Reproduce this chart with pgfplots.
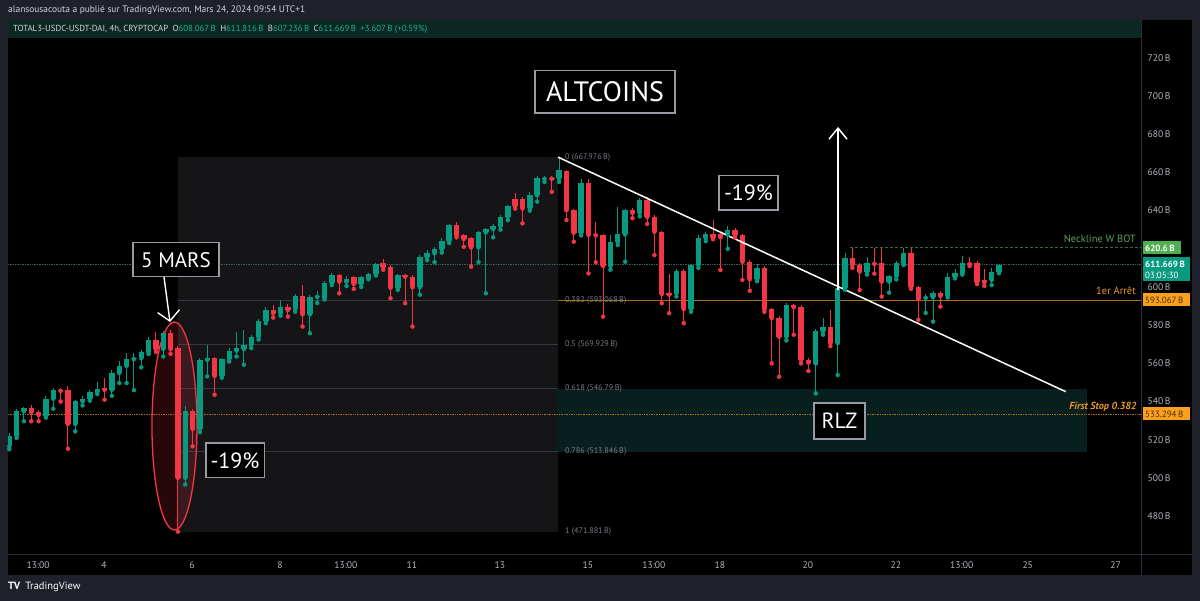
\documentclass[border=0pt]{standalone}
\usepackage{pgfplots}
\pgfplotsset{compat=1.18}
\usepackage{pgfplotstable}
\usepackage{fontspec}
\setmainfont{PT Sans}
\usetikzlibrary{arrows.meta}
\definecolor{frame}{RGB}{30,33,42}
\definecolor{tvgreen}{RGB}{8,153,129}
\definecolor{tvred}{RGB}{242,54,69}
\definecolor{axtxt}{RGB}{178,181,190}
\definecolor{fibbox}{RGB}{21,21,24}
\definecolor{fibline}{RGB}{55,56,62}
\definecolor{fibtxt}{RGB}{120,123,134}
\definecolor{rlz}{RGB}{8,32,29}
\definecolor{tag}{RGB}{250,160,30}
\definecolor{tagtxt}{RGB}{70,45,10}
\definecolor{orangetxt}{RGB}{232,150,38}
\definecolor{orangeline}{RGB}{170,110,30}
\definecolor{neck}{RGB}{76,175,80}
\definecolor{necktxt}{RGB}{85,160,90}
\definecolor{neckline}{RGB}{50,110,55}
\definecolor{boxline}{RGB}{150,154,163}
\definecolor{band}{RGB}{11,40,35}
\definecolor{sep}{RGB}{42,46,57}
\definecolor{hdr}{RGB}{209,212,220}
\definecolor{ohlc}{RGB}{34,171,148}
\definecolor{pline}{RGB}{60,95,88}

\pgfplotstableread{
i o h l c
1 516.6 523.5 515.0 522.2
2 522.2 536.0 521.0 534.9
3 534.9 537.2 529.7 536.5
4 536.5 538.4 529.7 534.4
5 534.4 535.6 529.7 533.0
6 532.6 542.7 531.6 541.5
7 541.5 546.9 536.3 546.2
8 546.2 546.9 540.0 545.6
9 546.2 548.3 515.3 528.3
10 528.3 541.0 524.4 540.1
11 540.1 543.0 538.0 541.5
12 541.5 546.0 540.5 545.0
13 545.0 550.0 544.0 546.6
14 547.1 552.3 541.0 546.2
15 546.2 556.3 543.0 554.9
16 554.9 561.0 549.7 558.7
17 558.7 565.3 549.7 562.2
18 562.2 565.3 546.0 562.7
19 562.7 567.1 558.0 565.7
20 565.7 574.0 564.9 572.3
21 572.3 576.5 566.0 567.5
22 567.5 577.0 563.6 575.8
23 575.8 577.5 565.0 567.5
24 568.0 569.0 471.9 500.1
25 500.1 537.9 496.6 534.9
26 534.9 536.0 516.6 525.7
27 525.7 562.8 524.0 561.9
28 561.9 569.7 553.2 562.3
29 562.7 563.5 543.6 553.5
30 553.5 563.0 552.5 562.2
31 562.2 568.0 561.0 566.7
32 566.7 576.6 563.6 568.0
33 567.5 577.5 559.3 569.7
34 569.7 575.0 568.0 574.0
35 574.0 583.5 572.5 582.4
36 582.4 589.5 581.0 588.0
37 588.0 590.8 584.0 586.3
38 586.3 593.0 585.0 589.7
39 589.7 591.1 584.5 588.0
40 588.4 596.5 587.0 595.5
41 595.5 601.0 579.3 585.7
42 585.7 596.0 575.8 595.0
43 594.8 597.7 591.6 595.2
44 594.4 603.0 593.5 602.2
45 602.2 607.5 601.0 606.3
46 606.3 607.0 596.7 602.8
47 602.8 605.5 600.5 604.4
48 605.1 606.0 599.0 601.6
49 601.6 606.0 600.0 605.1
50 604.9 607.5 604.0 606.8
51 606.8 612.5 606.0 611.9
52 612.4 614.5 609.0 610.3
53 610.6 611.5 594.1 599.6
54 599.6 607.0 598.5 606.3
55 606.3 607.0 591.5 605.4
56 605.4 606.5 579.3 599.8
57 599.8 616.5 596.0 615.5
58 615.5 619.5 614.0 617.6
59 617.6 621.0 613.0 619.7
60 619.7 625.5 618.0 624.2
61 624.2 633.0 623.0 632.4
62 632.4 634.1 626.0 627.2
63 627.2 628.0 621.0 625.1
64 625.4 626.0 610.6 620.7
65 620.7 629.5 613.0 628.9
66 628.6 631.0 596.7 630.3
67 630.3 633.0 626.0 631.9
68 631.9 637.5 630.0 636.7
69 636.7 643.0 635.0 642.3
70 646.0 649.0 641.0 642.3
71 646.3 647.0 633.3 641.1
72 641.1 649.5 640.0 648.4
73 648.0 658.0 644.7 657.3
74 656.6 658.0 655.0 657.0
75 657.0 658.0 649.8 656.6
76 656.8 667.976 655.0 661.1
77 660.8 661.5 635.0 640.2
78 640.2 641.0 623.7 628.4
79 628.4 656.3 627.0 654.5
80 654.5 656.3 607.1 627.2
81 627.5 634.0 613.0 627.0
82 627.2 628.0 584.5 611.0
83 611.0 627.0 609.0 623.7
84 623.7 642.0 622.0 627.5
85 627.5 641.0 613.2 640.2
86 640.2 641.5 636.0 638.8
87 638.8 646.5 637.0 645.8
88 645.8 647.0 633.0 636.7
89 636.7 637.5 616.7 628.9
90 628.9 629.5 591.5 596.3
91 596.5 606.8 586.3 596.0
92 596.7 609.5 595.0 608.5
93 608.5 609.5 581.0 588.4
94 588.4 612.0 587.0 611.5
95 611.5 627.0 610.0 625.4
96 625.4 629.0 624.0 628.0
97 628.0 635.0 625.0 625.9
98 628.0 629.0 608.9 626.0
99 627.2 632.0 620.0 629.8
100 629.8 631.0 626.0 627.2
101 627.2 628.0 603.7 613.2
102 613.2 614.0 598.0 604.0
103 604.0 612.0 603.0 609.8
104 609.8 611.0 587.0 588.4
105 588.4 589.0 560.0 583.7
106 583.7 585.0 553.0 574.0
107 574.0 591.5 572.0 590.6
108 590.6 591.0 575.0 589.4
109 589.4 590.5 560.0 561.8
110 561.8 563.0 556.0 560.4
111 559.9 578.0 544.3 576.7
112 576.7 584.0 575.0 579.3
113 579.3 588.0 569.0 570.6
114 570.6 600.0 553.9 599.3
115 599.3 617.6 598.5 615.0
116 615.0 620.2 610.0 611.5
117 611.5 612.5 598.4 608.0
118 608.0 615.5 606.5 612.4
119 612.4 620.2 607.0 612.1
120 612.4 620.2 595.0 602.8
121 602.8 606.5 597.0 605.7
122 605.7 613.5 604.0 612.4
123 612.4 620.2 611.5 617.9
124 617.9 620.2 599.0 599.8
125 599.8 600.5 582.8 593.7
126 594.3 596.5 586.4 594.9
127 594.6 598.0 581.9 597.0
128 597.0 598.0 589.7 595.3
129 595.5 607.5 594.5 605.4
130 605.4 609.5 604.5 607.2
131 607.2 616.2 606.5 612.4
132 612.4 615.5 611.0 611.9
133 612.4 613.5 601.5 602.4
134 603.6 609.5 600.6 602.4
135 603.7 610.0 601.0 608.0
136 608.067 611.816 607.236 611.669
}\candles

\pgfplotsset{
  candle/.style 2 args={only marks, mark=none, color=#1, forget plot,
    error bars/y dir=plus, error bars/y explicit, error bars/error mark=none,
    error bars/error bar style={line width=#2, color=#1, solid}},
}
\tikzset{tvbox/.style={draw=boxline, line width=1.6pt, fill=black, text=white, inner sep=0pt, font=#1}}

\begin{document}
\begin{tikzpicture}[x=1pt,y=1pt]
% frame and pane
\fill[frame] (0,0) rectangle (1200,601);
\fill[black] (8,26) rectangle (1191.7,581);
\fill[band] (8,563) rectangle (1141.5,580.5);
\node[anchor=west, font=\fontsize{8.8}{10}\selectfont, text=hdr, inner sep=0pt] at (13,571.5)
 {TOTAL3-USDC-USDT-DAI, 4h, CRYPTOCAP\enspace O\textcolor{ohlc}{608.067\,B}\enspace H\textcolor{ohlc}{611.816\,B}\enspace B\textcolor{ohlc}{607.236\,B}\enspace C\textcolor{ohlc}{611.669\,B}\enspace\textcolor{ohlc}{+3.607\,B (+0.59\%)}};

\begin{axis}[
  at={(8pt,48pt)}, anchor=south west,
  scale only axis, width=1133pt, height=533pt,
  xmin=0.8227, xmax=155.37, ymin=460.73, ymax=739.79,
  axis line style={draw=none}, major tick length=0pt,
  ytick={460,480,...,740},
  yticklabels={460\,B,480\,B,500\,B,520\,B,540\,B,560\,B,580\,B,600\,B,,640\,B,660\,B,680\,B,700\,B,720\,B,740\,B},
  yticklabel pos=right,
  yticklabel style={anchor=west, xshift=3pt, font=\fontsize{9.6}{10}\selectfont, text=axtxt},
  xtick={4.92,13.92,25.92,37.92,46.92,55.92,67.92,79.92,88.92,97.92,109.92,121.92,130.92,139.92,151.92},
  xticklabels={13:00,4,6,8,13:00,11,13,15,13:00,18,20,22,13:00,25,27},
  xticklabel style={anchor=center, yshift=-12pt, font=\fontsize{9.6}{10}\selectfont, text=axtxt},
]
% fib box and RLZ zone
\fill[fibbox] (axis cs:24.01,471.881) rectangle (axis cs:75.85,667.976);
\fill[rlz] (axis cs:75.71,513.846) rectangle (axis cs:148.0,546.79);
\addplot[fibline, line width=0.6pt, forget plot] coordinates {(24.01,593.068) (75.85,593.068)};
\addplot[fibline, line width=0.6pt, forget plot] coordinates {(24.01,569.929) (75.85,569.929)};
\addplot[fibline, line width=0.6pt, forget plot] coordinates {(24.01,546.79) (75.85,546.79)};
\addplot[fibline, line width=0.6pt, forget plot] coordinates {(24.01,513.846) (75.85,513.846)};
% level lines
\addplot[pline, densely dotted, line width=0.7pt, forget plot] coordinates {(0.8227,611.669) (155.37,611.669)};
\addplot[orangeline, densely dotted, line width=0.7pt, forget plot] coordinates {(0.8227,533.294) (155.37,533.294)};
\addplot[neckline, densely dashed, line width=0.7pt, forget plot] coordinates {(115.7,620.6) (155.37,620.6)};
\addplot[orangeline, line width=0.7pt, forget plot] coordinates {(75.85,593.067) (155.37,593.067)};
% ellipse
\draw[tvred, line width=1.3pt, fill=tvred, fill opacity=0.16] (axis cs:23.53,527.2) ellipse [x radius=22.5pt, y radius=104pt];
% candles
\addplot[restrict expr to domain={\thisrow{c}-\thisrow{o}}{0:1000}, candle={tvgreen}{1pt}]
  table[x=i, y=l, y error plus expr={\thisrow{h}-\thisrow{l}}] {\candles};
\addplot[restrict expr to domain={\thisrow{c}-\thisrow{o}}{0:1000}, candle={tvgreen}{5.4pt}]
  table[x=i, y=o, y error plus expr={max(\thisrow{c}-\thisrow{o},0.7)}] {\candles};
\addplot[restrict expr to domain={\thisrow{c}-\thisrow{o}}{-1000:-0.0001}, candle={tvred}{1pt}]
  table[x=i, y=l, y error plus expr={\thisrow{h}-\thisrow{l}}] {\candles};
\addplot[restrict expr to domain={\thisrow{c}-\thisrow{o}}{-1000:-0.0001}, candle={tvred}{5.4pt}]
  table[x=i, y=c, y error plus expr={max(\thisrow{o}-\thisrow{c},0.7)}] {\candles};
% trendline and arrow
\addplot[white, line width=1.5pt, forget plot] coordinates {(75.85,667.976) (145.1,545.2)};
\addplot[white, line width=1.5pt, forget plot, -{Straight Barb[length=11pt,width=18pt]}] coordinates {(114.04,598.4) (114.04,683.8)};
% fib labels
\node[anchor=west, font=\fontsize{8.2}{9}\selectfont, text=fibtxt, inner sep=0pt] at (axis cs:76.8,667.976) {0 (667.976\,B)};
\node[anchor=west, font=\fontsize{8.2}{9}\selectfont, text=fibtxt, inner sep=0pt] at (axis cs:76.8,593.068) {0.382 (593.068\,B)};
\node[anchor=west, font=\fontsize{8.2}{9}\selectfont, text=fibtxt, inner sep=0pt] at (axis cs:76.8,569.929) {0.5 (569.929\,B)};
\node[anchor=west, font=\fontsize{8.2}{9}\selectfont, text=fibtxt, inner sep=0pt] at (axis cs:76.8,546.79) {0.618 (546.79\,B)};
\node[anchor=west, font=\fontsize{8.2}{9}\selectfont, text=fibtxt, inner sep=0pt] at (axis cs:76.8,513.846) {0.786 (513.846\,B)};
\node[anchor=west, font=\fontsize{8.2}{9}\selectfont, text=fibtxt, inner sep=0pt] at (axis cs:76.8,471.881) {1 (471.881\,B)};
\end{axis}

% overlays: top strip, header line
\fill[frame] (0,581) rectangle (1200,601);
\node[anchor=west, font=\fontsize{9.4}{10}\selectfont, text=hdr, inner sep=0pt] at (8,590.5)
 {alansousacouta a publié sur TradingView.com, Mars 24, 2024 09:54 UTC+1};
\fill[black] (1142.2,26) rectangle (1191.7,46.5);
\draw[sep, line width=0.8pt] (1141.7,26) -- (1141.7,581);
\draw[sep, line width=0.8pt] (8,47) -- (1191.7,47);

% price tags
\fill[neck] (1142.7,346.5) rectangle (1181,359.5);
\node[anchor=west, text=white, font=\fontsize{9}{10}\selectfont\bfseries, inner sep=0pt] at (1145,353) {620.6\,B};
\fill[tvgreen] (1142.7,319.5) rectangle (1190,343.5);
\node[anchor=west, text=white, font=\fontsize{9}{10}\selectfont\bfseries, inner sep=0pt] at (1145,337) {611.669\,B};
\node[anchor=west, text=white, font=\fontsize{9}{10}\selectfont, inner sep=0pt] at (1145,325.5) {03:05:30};
\fill[tag] (1142.7,294.5) rectangle (1190,307.5);
\node[anchor=west, text=tagtxt, font=\fontsize{9}{10}\selectfont, inner sep=0pt] at (1145,301) {593.067\,B};
\fill[tag] (1142.7,180.5) rectangle (1190,193.5);
\node[anchor=west, text=tagtxt, font=\fontsize{9}{10}\selectfont, inner sep=0pt] at (1145,187) {533.294\,B};

% line labels
\node[anchor=east, text=necktxt, font=\fontsize{10.5}{11}\selectfont, inner sep=0pt] at (1136,362) {Neckline W BOT};
\node[anchor=east, text=orangetxt, font=\fontsize{10.5}{11}\selectfont, inner sep=0pt] at (1136,310) {1er Arrêt};
\node[anchor=east, text=orangetxt, font=\fontsize{10.2}{11}\selectfont\bfseries\itshape, inner sep=0pt] at (1136.7,194.3) {First Stop 0.382};

% annotation boxes
\node[tvbox=\fontsize{28}{30}\selectfont, minimum width=140pt, minimum height=42.6pt] at (605,509) {ALTCOINS};
\node[tvbox=\fontsize{21}{24}\selectfont, minimum width=86pt, minimum height=34pt] at (176,341.3) {5 MARS};
\node[tvbox=\fontsize{22}{24}\selectfont, minimum width=59pt, minimum height=34.3pt] at (748.5,408.2) {-19\%};
\node[tvbox=\fontsize{22}{24}\selectfont, minimum width=58.6pt, minimum height=34.7pt] at (235,140.7) {-19\%};
\node[tvbox=\fontsize{22}{24}\selectfont, minimum width=51pt, minimum height=36pt] at (839.4,180) {RLZ};
\draw[white, line width=1.4pt, -{Straight Barb[length=10pt,width=22pt]}] (164,324) -- (170,279);

% footer
\node[anchor=west, text=white, font=\fontsize{10.5}{12}\selectfont, inner sep=0pt] at (8,14) {\textbf{TV}\enspace TradingView};
\end{tikzpicture}
\end{document}
